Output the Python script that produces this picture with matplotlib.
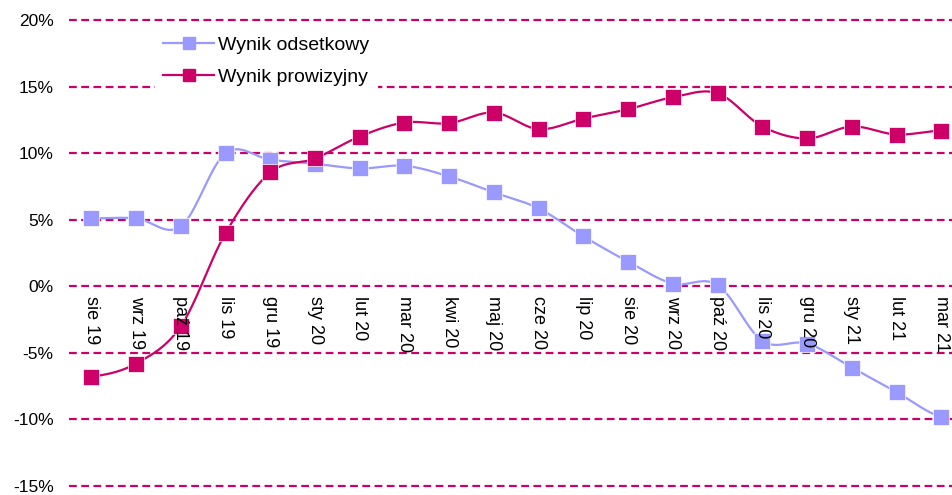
import matplotlib
matplotlib.use("Agg")
import matplotlib.pyplot as plt
import numpy as np
from matplotlib.transforms import offset_copy

plt.rcParams['font.family'] = ['Liberation Sans', 'DejaVu Sans']

# Data
months = ["sie 19", "wrz 19", "paź 19", "lis 19", "gru 19", "sty 20", "lut 20",
          "mar 20", "kwi 20", "maj 20", "cze 20", "lip 20", "sie 20", "wrz 20",
          "paź 20", "lis 20", "gru 20", "sty 21", "lut 21", "mar 21"]
wynik_odsetkowy = [5.1, 5.1, 4.5, 10.0, 9.5, 9.2, 8.85, 9.05, 8.25, 7.05,
                   5.85, 3.75, 1.85, 0.2, 0.1, -4.1, -4.3, -6.1, -7.95, -9.8]
wynik_prowizyjny = [-6.8, -5.8, -3.0, 4.0, 8.55, 9.6, 11.25, 12.3, 12.25, 13.05,
                    11.8, 12.6, 13.3, 14.2, 14.5, 12.0, 11.1, 12.0, 11.4, 11.7]
y_ticks = [-15, -10, -5, 0, 5, 10, 15, 20]

BLUE = "#9999FF"
RED = "#CC0066"


def smooth(x, y, steps=20):
    """Catmull-Rom style smoothing between points (like Excel smoothed lines)."""
    x = np.asarray(x, float)
    y = np.asarray(y, float)
    px = np.concatenate([[2 * x[0] - x[1]], x, [2 * x[-1] - x[-2]]])
    py = np.concatenate([[y[0]], y, [y[-1]]])
    xs, ys = [], []
    for i in range(1, len(px) - 2):
        t = np.linspace(0, 1, steps, endpoint=False)
        p0, p1, p2, p3 = py[i - 1], py[i], py[i + 1], py[i + 2]
        q0, q1, q2, q3 = px[i - 1], px[i], px[i + 1], px[i + 2]
        k = 1 / 6
        # bezier control points
        c1y = p1 + (p2 - p0) * k
        c2y = p2 - (p3 - p1) * k
        c1x = q1 + (q2 - q0) * k
        c2x = q2 - (q3 - q1) * k
        bx = (1 - t) ** 3 * q1 + 3 * (1 - t) ** 2 * t * c1x + 3 * (1 - t) * t ** 2 * c2x + t ** 3 * q2
        by = (1 - t) ** 3 * p1 + 3 * (1 - t) ** 2 * t * c1y + 3 * (1 - t) * t ** 2 * c2y + t ** 3 * p2
        xs.extend(bx)
        ys.extend(by)
    xs.append(x[-1])
    ys.append(y[-1])
    return np.array(xs), np.array(ys)


fig = plt.figure(figsize=(9.52, 4.95), dpi=100)
ax = fig.add_axes([69 / 952, 1 - 486 / 495, 1 - 69 / 952, (486 - 20) / 495])

x = np.arange(len(months))

for vals, color, label in [(wynik_odsetkowy, BLUE, "Wynik odsetkowy"),
                           (wynik_prowizyjny, RED, "Wynik prowizyjny")]:
    sx, sy = smooth(x, vals)
    ax.plot(sx, sy, color=color, linewidth=1.6, zorder=3)
    ax.plot(x, vals, linestyle="none", marker="s", markersize=11,
            color=color, markeredgecolor="white", markeredgewidth=0.5, zorder=4)
    # legend proxy
    ax.plot([], [], color=color, linewidth=1.6, marker="s", markersize=9,
            markeredgecolor=color, label=label)

ax.set_ylim(-15, 20)
ax.set_xlim(-0.5, 19.24)
ax.set_yticks(y_ticks)
ax.set_yticklabels([f"{v}%" for v in y_ticks], fontsize=12.5)
ax.tick_params(axis="y", length=0, pad=11)
ax.set_xticks([])
for s in ax.spines.values():
    s.set_visible(False)

for v in y_ticks:
    ax.axhline(v, color=RED, linestyle=(0, (3.5, 2)), linewidth=1.6, zorder=1,
               clip_on=False)

# category labels hanging below the zero line
trans = offset_copy(ax.transData, fig=fig, x=0, y=-10, units="dots")
for i, m in enumerate(months):
    ax.text(i, 0, m, transform=trans, rotation=-90, ha="center", va="top",
            fontsize=13, zorder=5)

leg = ax.legend(loc="upper left", bbox_to_anchor=(76 / 883, 1.005), frameon=True,
                fontsize=14, handlelength=2.6, labelspacing=0.75,
                borderpad=0.45, handletextpad=0.2)
leg.get_frame().set_facecolor("white")
leg.get_frame().set_edgecolor("none")
leg.get_frame().set_alpha(1)
leg.set_zorder(6)

fig.savefig("out.png", dpi=100)
